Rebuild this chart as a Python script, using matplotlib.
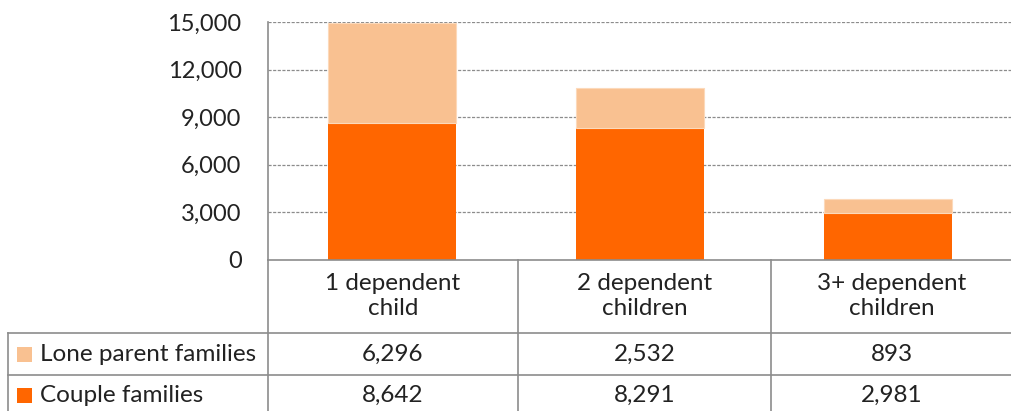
import matplotlib
matplotlib.use("Agg")
import matplotlib.pyplot as plt
from matplotlib.patches import Rectangle
from matplotlib.lines import Line2D

categories = ["1 dependent\nchild", "2 dependent\nchildren", "3+ dependent\nchildren"]
series_names = ["Lone parent families", "Couple families"]
couple = [8642, 8291, 2981]
lone = [6296, 2532, 893]
yticks = [0, 3000, 6000, 9000, 12000, 15000]

DARK = "#FF6600"
LIGHT = "#F9C191"
GRID = "#8C8C8C"
TXT = "#222222"
FS = 17.5

plt.rcParams["font.family"] = ["Lato", "DejaVu Sans"]

W, H = 1012, 411
fig = plt.figure(figsize=(W / 100, H / 100), dpi=100)

# plot area in pixel terms
left_px, right_px, top_px, base_px = 268, 1012, 22, 260
ax = fig.add_axes([left_px / W, (H - base_px) / H,
                   (right_px - left_px) / W, (base_px - top_px) / H])
ax.set_xlim(0, len(categories))
ax.set_ylim(0, 15000)

xs = [i + 0.5 for i in range(len(categories))]
bw = 0.52
ax.bar(xs, couple, width=bw, color=DARK, zorder=3)
ax.bar(xs, lone, width=bw, bottom=couple, color=LIGHT, zorder=3,
       edgecolor="#FCD9BA", linewidth=0.8)

ax.set_yticks(yticks)
ax.set_yticklabels([f"{v:,}" for v in yticks], fontsize=17, color=TXT)
ax.tick_params(axis="y", length=0, pad=19)
ax.set_xticks([])
for s in ["top", "right", "bottom"]:
    ax.spines[s].set_visible(False)
ax.spines["left"].set_color(GRID)
ax.spines["left"].set_linewidth(1.2)
for v in yticks[1:]:
    ax.axhline(v, color=GRID, linewidth=0.9, linestyle=(0, (2.5, 1.2)), zorder=1)

# data table under the plot, drawn in figure pixels
def fx(px):
    return px / W

def fy(py):
    return (H - py) / H

col_edges = [268, 518, 771, 1012]
row_edges = [260, 333, 375, 411]
lw = 1.2

def hline(y, x0, x1):
    fig.add_artist(Line2D([fx(x0), fx(x1)], [fy(y), fy(y)], color=GRID, linewidth=lw))

def vline(x, y0, y1):
    fig.add_artist(Line2D([fx(x), fx(x)], [fy(y0), fy(y1)], color=GRID, linewidth=lw))

hline(260, 268, 1012)
hline(333, 8, 1012)
hline(375, 8, 1012)
vline(268, 260, 411)
vline(518, 260, 411)
vline(771, 260, 411)
vline(8, 333, 411)

for i, cat in enumerate(categories):
    cx = (col_edges[i] + col_edges[i + 1]) / 2
    fig.text(fx(cx), fy(296), cat, ha="center",
             va="center", fontsize=FS, color=TXT, linespacing=1.25)

rows = [(series_names[0], lone, LIGHT), (series_names[1], couple, DARK)]
row_centres = [354, 395]
for (name, vals, col), yc in zip(rows, row_centres):
    fig.add_artist(Rectangle((fx(17), fy(yc + 7.5)), 15 / W, 15 / H,
                             facecolor=col, edgecolor="none"))
    fig.text(fx(40), fy(yc), name, ha="left", va="center", fontsize=FS, color=TXT)
    for i, v in enumerate(vals):
        cx = (col_edges[i] + col_edges[i + 1]) / 2
        fig.text(fx(cx), fy(yc), f"{v:,}", ha="center", va="center",
                 fontsize=FS, color=TXT)

fig.savefig("out.png", dpi=100)
